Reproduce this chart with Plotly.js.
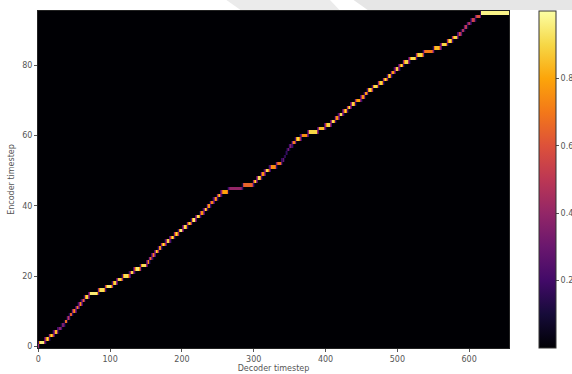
<!DOCTYPE html>
<html>
<head>
<meta charset="utf-8">
<script src="https://cdn.plot.ly/plotly-3.0.1.min.js"></script>
<style>html,body{margin:0;padding:0;background:#fff;}#chart{width:572px;height:374px;}</style>
</head>
<body>
<div id="chart"></div>
<script>
// Number of decoder steps (columns) and encoder steps (rows)
const nDecoder = 656;
const nEncoder = 96;

// Decoder timestep at which attention moves onto each encoder timestep (row 0..95)
const decStart = [
  0, 1, 10, 16, 22, 28, 33, 37, 41, 44,
  48, 53, 57, 61, 65, 71, 84, 94, 104, 110,
  118, 128, 134, 143, 152, 155, 159, 163, 168, 172,
  178, 184, 190, 196, 202, 208, 214, 220, 226, 231,
  236, 240, 245, 250, 255, 265, 285, 300, 305, 311,
  316, 323, 332, 340, 343, 345, 347, 350, 354, 359,
  366, 376, 390, 400, 408, 414, 419, 425, 431, 436,
  442, 450, 455, 459, 466, 474, 481, 487, 492, 497,
  503, 509, 517, 527, 537, 551, 561, 570, 577, 585,
  590, 594, 598, 603, 609, 617
];

// Peak attention weight on each encoder timestep
const peakWeight = [
  0.85, 0.95, 0.92, 0.9, 0.85, 0.45, 0.4, 0.8, 0.6, 0.75,
  0.75, 0.85, 0.9, 0.8, 0.9, 0.95, 0.92, 0.95, 0.9, 0.9,
  0.92, 0.9, 0.95, 0.92, 0.9, 0.8, 0.85, 0.9, 0.9, 0.92,
  0.9, 0.92, 0.9, 0.95, 0.92, 0.9, 0.95, 0.92, 0.9, 0.92,
  0.9, 0.85, 0.8, 0.85, 0.8, 0.4, 0.65, 0.9, 0.92, 0.9,
  0.92, 0.75, 0.7, 0.35, 0.3, 0.35, 0.4, 0.45, 0.85, 0.9,
  0.75, 0.9, 0.85, 0.9, 0.92, 0.9, 0.92, 0.9, 0.92, 0.9,
  0.8, 0.9, 0.92, 0.9, 0.92, 0.9, 0.92, 0.9, 0.92, 0.9,
  0.92, 0.9, 0.92, 0.9, 0.7, 0.85, 0.9, 0.92, 0.9, 0.6,
  0.55, 0.6, 0.5, 0.55, 0.6, 0.97
];

// Axis tick labels
const xTicks = [0, 100, 200, 300, 400, 500, 600];
const yTicks = [0, 20, 40, 60, 80];
const cbTicks = [0.2, 0.4, 0.6, 0.8];

// Inferno colour scale
const inferno = [
  [0.0, '#000004'], [0.1, '#160b39'], [0.2, '#420a68'], [0.3, '#6a176e'],
  [0.4, '#932667'], [0.5, '#bc3754'], [0.6, '#dd513a'], [0.7, '#f37819'],
  [0.8, '#fca50a'], [0.9, '#f6d746'], [1.0, '#fcffa4']
];

// Build the attention matrix from the alignment arrays
const z = [];
for (let j = 0; j < nEncoder; j++) z.push(new Array(nDecoder).fill(0));
for (let j = 0; j < nEncoder; j++) {
  const s = decStart[j];
  const e = (j + 1 < nEncoder) ? decStart[j + 1] : nDecoder;
  const p = peakWeight[j];
  for (let x = s; x < e; x++) {
    if (j === nEncoder - 1) { z[j][x] = p; continue; }
    const dl = x - s, dr = e - 1 - x;
    const d = Math.min(dl, dr);
    const v = Math.min(p, p * (0.5 + 0.35 * d));
    z[j][x] = Math.max(z[j][x], v);
    const rest = (p - v) * 0.5;
    const nb = dl < dr ? j - 1 : j + 1;
    if (nb >= 0 && nb < nEncoder) z[nb][x] = Math.max(z[nb][x], rest);
  }
}

const trace = {
  type: 'heatmap',
  z: z,
  x0: 0, dx: 1, y0: 0, dy: 1,
  colorscale: inferno,
  zmin: 0, zmax: 1,
  zsmooth: false,
  hoverinfo: 'skip',
  colorbar: {
    x: 1.0637, xanchor: 'left', xpad: 0,
    y: 0.5, yanchor: 'middle', ypad: 0,
    len: 1, lenmode: 'fraction',
    thickness: 17, thicknessmode: 'pixels',
    outlinewidth: 1, outlinecolor: '#333',
    tickvals: cbTicks, ticktext: cbTicks.map(v => v.toFixed(1)),
    ticks: 'outside', ticklen: 3, tickcolor: '#555',
    tickfont: {family: 'DejaVu Sans', size: 8, color: '#555'}
  }
};

const axisFont = {family: 'DejaVu Sans', size: 8, color: '#555'};
const layout = {
  width: 572, height: 374,
  margin: {l: 38, r: 63, t: 11, b: 26, autoexpand: false},
  paper_bgcolor: '#ffffff',
  plot_bgcolor: '#000004',
  xaxis: {
    range: [-0.5, 655.5], tickvals: xTicks, ticks: 'outside', ticklen: 3, tickcolor: '#555',
    showgrid: false, zeroline: false, showline: true, linecolor: '#222', mirror: true,
    tickfont: axisFont,
    title: {text: 'Decoder timestep', font: {family: 'DejaVu Sans', size: 8, color: '#555'}, standoff: 2}
  },
  yaxis: {
    range: [-0.5, 95.5], tickvals: yTicks, ticks: 'outside', ticklen: 3, tickcolor: '#555',
    showgrid: false, zeroline: false, showline: true, linecolor: '#222', mirror: true,
    tickfont: axisFont,
    title: {text: 'Encoder timestep', font: {family: 'DejaVu Sans', size: 8, color: '#555'}, standoff: 6}
  },
  shapes: [
    {type: 'path', xref: 'paper', yref: 'paper', layer: 'below', line: {width: 0}, fillcolor: '#ebebeb',
     path: 'M 0.40 1.0326 L 0.62 1.0326 L 0.64 1.003 L 0.43 1.003 Z'},
    {type: 'path', xref: 'paper', yref: 'paper', layer: 'below', line: {width: 0}, fillcolor: '#e6e6e6',
     path: 'M 0.67 1.0326 L 1.134 1.0326 L 1.134 1.003 L 0.70 1.003 Z'}
  ],
  showlegend: false
};

Plotly.newPlot('chart', [trace], layout, {displayModeBar: false, staticPlot: true});
</script>
</body>
</html>
